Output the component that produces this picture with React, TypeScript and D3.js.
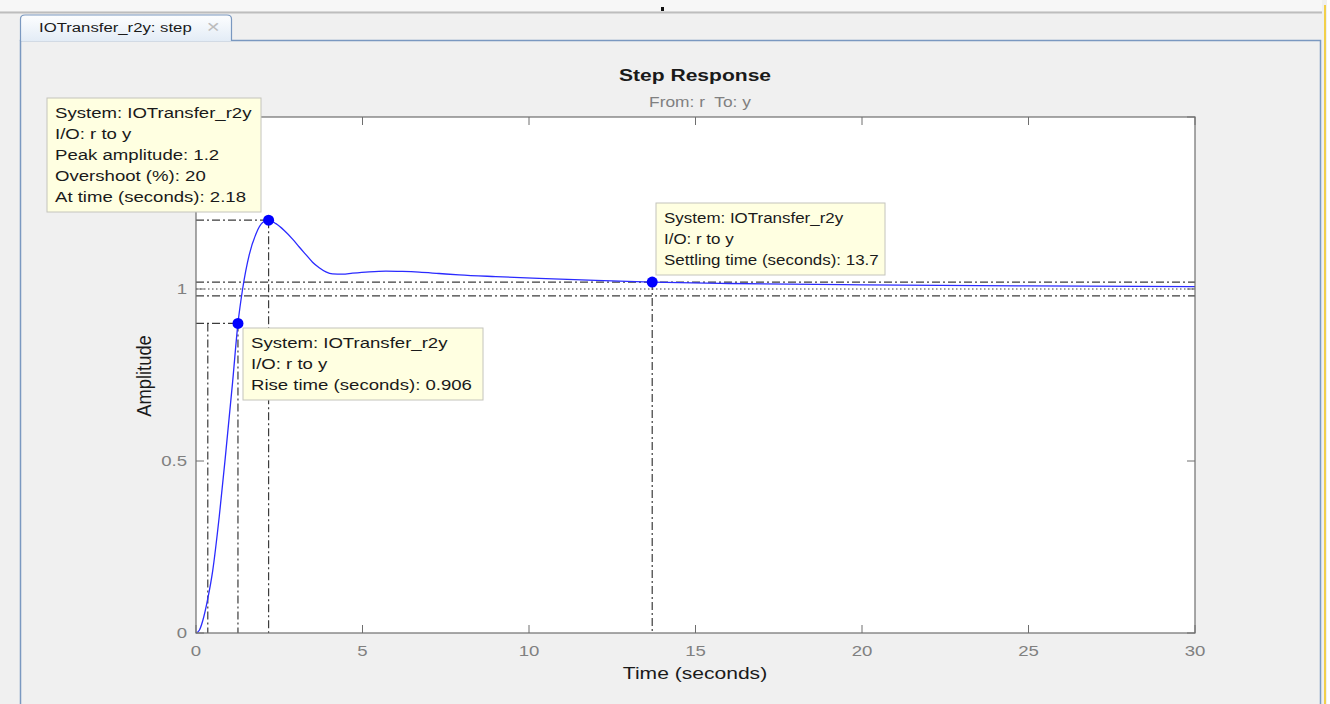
import React from 'react';
import * as d3 from 'd3';

// step response samples
const timeS = [0, 0.1, 0.2, 0.354, 0.5, 0.7, 0.9, 1.1, 1.26, 1.4, 1.6, 1.8, 2.0, 2.18, 2.4, 2.65, 2.9, 3.1, 3.3, 3.5, 3.7, 3.9, 4.1, 4.4, 4.7, 5.2, 5.7, 6.2, 6.7, 7.3, 7.9, 9.0, 10.3, 12.0, 13.7, 16.0, 20.0, 25.0, 30.0];
const amplitude = [0, 0.008, 0.035, 0.1, 0.18, 0.34, 0.53, 0.73, 0.9, 1.0, 1.1, 1.16, 1.193, 1.2, 1.19, 1.17, 1.145, 1.122, 1.1, 1.078, 1.062, 1.05, 1.044, 1.043, 1.046, 1.05, 1.052, 1.051, 1.049, 1.045, 1.041, 1.036, 1.031, 1.025, 1.02, 1.016, 1.012, 1.009, 1.007];

const xTicks = [0, 5, 10, 15, 20, 25, 30];
const yTicks = [0, 0.5, 1, 1.5];
// the 1.5 label sits under the peak data tip in the reference
const yTickLabels = ['0', '0.5', '1', ''];

const peak = { t: 2.18, a: 1.2 };
const rise = { t10: 0.354, t90: 1.26, a: 0.9 };
const settle = { t: 13.7, a: 1.02, lo: 0.98, hi: 1.02 };

const peakText = ['System: IOTransfer_r2y', 'I/O: r to y', 'Peak amplitude: 1.2', 'Overshoot (%): 20', 'At time (seconds): 2.18'];
const settleText = ['System: IOTransfer_r2y', 'I/O: r to y', 'Settling time (seconds): 13.7'];
const riseText = ['System: IOTransfer_r2y', 'I/O: r to y', 'Rise time (seconds): 0.906'];

const W = 1330;
const H = 704;
const m = { left: 196, right: 1195, top: 117, bottom: 633 };
const FONT = '"Liberation Sans", Arial, Helvetica, sans-serif';
const DASHDOT = '8,3,2,3';
const GUIDE = '#3c3c3c';
const SX = 1.24; // the screenshot is stretched sideways

type TProps = { x: number; y: number; size: number; fill?: string; anchor?: string; bold?: boolean; sx?: number; children: React.ReactNode };
const T = ({ x, y, size, fill = '#1a1a1a', anchor = 'start', bold = false, sx = SX, children }: TProps) => (
  <text
    transform={`translate(${x},${y}) scale(${sx},1)`}
    fontSize={size}
    fill={fill}
    textAnchor={anchor}
    fontWeight={bold ? 'bold' : 'normal'}
    fontFamily={FONT}
    style={{ whiteSpace: 'pre' }}
  >
    {children}
  </text>
);

const Tip = ({ x, y, w, lines, sx = SX }: { x: number; y: number; w: number; lines: string[]; sx?: number }) => (
  <g>
    <rect x={x} y={y} width={w} height={lines.length * 21 + 9} fill="#ffffe1" stroke="#c4c4bc" strokeWidth={1} />
    {lines.map((l, i) => (
      <T key={i} x={x + 8} y={y + 20 + i * 21} size={15} sx={sx}>{l}</T>
    ))}
  </g>
);

const App = () => {
  const x = d3.scaleLinear().domain([0, 30]).range([m.left, m.right]);
  const y = d3.scaleLinear().domain([0, 1.5]).range([m.bottom, m.top]);

  const line = d3.line<number>()
    .x((_, i) => x(timeS[i]))
    .y(d => y(d))
    .curve(d3.curveMonotoneX);

  return (
    <svg width={W} height={H} style={{ position: 'absolute', left: 0, top: 0, display: 'block' }}>
      {/* window chrome */}
      <rect x={0} y={0} width={W} height={H} fill="#f0f0f0" />
      <rect x={0} y={0} width={1322} height={11} fill="#f7f7f7" />
      <line x1={0} x2={1322} y1={12.5} y2={12.5} stroke="#bdbdbd" strokeWidth={2} />
      <rect x={661} y={7} width={3} height={4} fill="#111" />
      <rect x={1327} y={0} width={3} height={H} fill="#ffffff" />
      <line x1={1325} x2={1325} y1={5} y2={H} stroke="#f2d04a" strokeWidth={2} />
      <path d="M20.5,704 V40.5 H232 M232,40.5 H1320.5 V704" fill="none" stroke="#7a98c0" strokeWidth={1.5} />
      <defs>
        <linearGradient id="tabGrad" x1="0" y1="0" x2="0" y2="1">
          <stop offset="0%" stopColor="#fdfeff" />
          <stop offset="100%" stopColor="#e3ecf6" />
        </linearGradient>
      </defs>
      <path d="M20.5,41 V19 Q20.5,15 25,15 H227 Q231.5,15 231.5,19 V41" fill="url(#tabGrad)" stroke="#7a98c0" strokeWidth={1.2} />
      <T x={39} y={32} size={13.5}>IOTransfer_r2y: step</T>
      <T x={206} y={32} size={14} fill="#bcbcbc">✕</T>

      {/* plot area */}
      <rect x={m.left} y={m.top} width={m.right - m.left} height={m.bottom - m.top} fill="#ffffff" />

      {/* settling band & final value */}
      <line x1={m.left} x2={m.right} y1={y(settle.hi)} y2={y(settle.hi)} stroke={GUIDE} strokeWidth={1.2} strokeDasharray={DASHDOT} />
      <line x1={m.left} x2={m.right} y1={y(settle.lo)} y2={y(settle.lo)} stroke={GUIDE} strokeWidth={1.2} strokeDasharray={DASHDOT} />
      <line x1={m.left} x2={m.right} y1={y(1)} y2={y(1)} stroke={GUIDE} strokeWidth={1} strokeDasharray="1.5,2.5" />
      <line x1={x(settle.t)} x2={x(settle.t)} y1={y(settle.a)} y2={m.bottom} stroke={GUIDE} strokeWidth={1.2} strokeDasharray={DASHDOT} />

      {/* peak guides */}
      <line x1={m.left} x2={x(peak.t)} y1={y(peak.a)} y2={y(peak.a)} stroke={GUIDE} strokeWidth={1.2} strokeDasharray={DASHDOT} />
      <line x1={x(peak.t)} x2={x(peak.t)} y1={y(peak.a)} y2={m.bottom} stroke={GUIDE} strokeWidth={1.2} strokeDasharray={DASHDOT} />

      {/* rise guides */}
      <line x1={m.left} x2={x(rise.t90)} y1={y(rise.a)} y2={y(rise.a)} stroke={GUIDE} strokeWidth={1.2} strokeDasharray={DASHDOT} />
      <line x1={x(rise.t10)} x2={x(rise.t10)} y1={y(rise.a)} y2={m.bottom} stroke={GUIDE} strokeWidth={1.2} strokeDasharray={DASHDOT} />
      <line x1={x(rise.t90)} x2={x(rise.t90)} y1={y(rise.a)} y2={m.bottom} stroke={GUIDE} strokeWidth={1.2} strokeDasharray={DASHDOT} />

      {/* response */}
      <path d={line(amplitude) || ''} fill="none" stroke="#2b2bff" strokeWidth={1.3} />

      {/* axes box and ticks */}
      <rect x={m.left} y={m.top} width={m.right - m.left} height={m.bottom - m.top} fill="none" stroke="#6e6e6e" strokeWidth={1.2} />
      {xTicks.map(t => (
        <g key={'x' + t}>
          <line x1={x(t)} x2={x(t)} y1={m.bottom} y2={m.bottom - 8} stroke="#6e6e6e" />
          <line x1={x(t)} x2={x(t)} y1={m.top} y2={m.top + 8} stroke="#6e6e6e" />
          <T x={x(t)} y={m.bottom + 23} size={15} fill="#808080" anchor="middle">{t}</T>
        </g>
      ))}
      {yTicks.map((t, i) => (
        <g key={'y' + t}>
          <line x1={m.left} x2={m.left + 8} y1={y(t)} y2={y(t)} stroke="#6e6e6e" />
          <line x1={m.right} x2={m.right - 8} y1={y(t)} y2={y(t)} stroke="#6e6e6e" />
          {yTickLabels[i] && (
            <T x={m.left - 9} y={y(t) + 5} size={15} fill="#808080" anchor="end">{yTickLabels[i]}</T>
          )}
        </g>
      ))}

      {/* markers */}
      <circle cx={x(peak.t)} cy={y(peak.a)} r={5.5} fill="#0000ff" />
      <circle cx={x(rise.t90)} cy={y(rise.a)} r={5.5} fill="#0000ff" />
      <circle cx={x(settle.t)} cy={y(settle.a)} r={5.5} fill="#0000ff" />

      {/* titles */}
      <T x={695} y={81} size={17} bold anchor="middle">Step Response</T>
      <T x={700} y={107} size={14} fill="#808080" anchor="middle">{'From: r  To: y'}</T>
      <T x={695} y={679} size={17} anchor="middle">Time (seconds)</T>
      <text transform="translate(151,376) rotate(-90) scale(1.08,1.15)" fontSize={17} fill="#1a1a1a" textAnchor="middle" fontFamily={FONT}>Amplitude</text>

      {/* data tips */}
      <Tip x={47} y={98} w={214} lines={peakText} />
      <Tip x={656} y={203} w={229} lines={settleText} sx={1.13} />
      <Tip x={243} y={328} w={240} lines={riseText} />
    </svg>
  );
};

export default App;
